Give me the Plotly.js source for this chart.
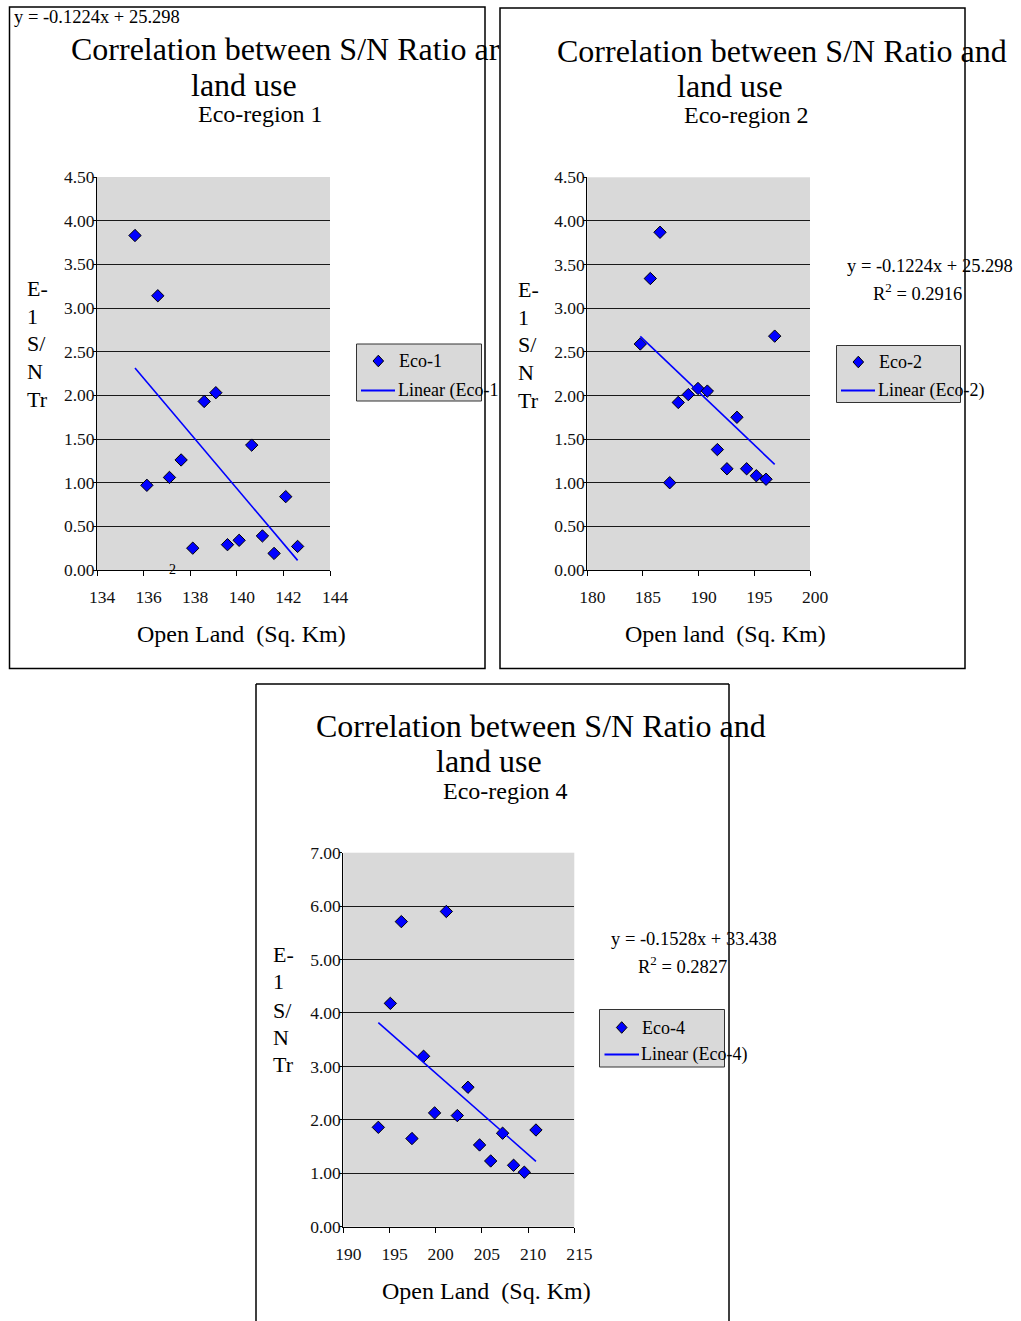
<!DOCTYPE html>
<html>
<head>
<meta charset="utf-8">
<script src="https://cdn.plot.ly/plotly-3.0.1.min.js"></script>
<style>
html,body{margin:0;padding:0;background:#fff;}
#chart{width:1021px;height:1321px;}
</style>
</head>
<body>
<div id="chart"></div>
<script>
// ---- Data ----
const eco1X = [135.63,136.14,136.61,137.11,137.61,138.11,138.60,139.10,139.60,140.10,140.64,141.10,141.60,142.10,142.61];
const eco1Y = [3.83,0.97,3.14,1.06,1.26,0.25,1.93,2.03,0.29,0.34,1.43,0.39,0.19,0.84,0.27];

const eco2X = [184.76,185.66,186.53,187.40,188.17,189.07,189.94,190.78,191.68,192.54,193.44,194.31,195.18,196.05,196.83];
const eco2Y = [2.59,3.34,3.87,1.00,1.92,2.01,2.08,2.05,1.38,1.16,1.75,1.16,1.08,1.04,2.68];

const eco4X = [193.79,195.09,196.28,197.43,198.69,199.88,201.15,202.34,203.49,204.75,205.95,207.24,208.43,209.59,210.85];
const eco4Y = [1.86,4.18,5.71,1.65,3.19,2.13,5.90,2.08,2.61,1.53,1.23,1.75,1.15,1.02,1.81];

const seriesNames = ["Eco-1","Eco-2","Eco-4"];
const legendLineLabels = ["Linear (Eco-1","Linear (Eco-2)","Linear (Eco-4)"];
const titleLine1 = "Correlation between S/N Ratio and";
const titleLine1Clipped = "Correlation between S/N Ratio ar";
const titleLine2 = "land use";
const subtitles = ["Eco-region 1","Eco-region 2","Eco-region 4"];
const xTitles = ["Open Land\u00a0\u00a0(Sq. Km)","Open land\u00a0\u00a0(Sq. Km)","Open Land\u00a0\u00a0(Sq. Km)"];
const yTitleLines = ["E-","1","S/","N","Tr"];
const eqTop = "y = -0.1224x + 25.298";
const eq2 = ["y = -0.1224x + 25.298","R<sup>2</sup> = 0.2916"];
const eq4 = ["y = -0.1528x + 33.438","R<sup>2</sup> = 0.2827"];

// ---- helpers ----
const W = 1021, H = 1321;
const px = x => x / W;
const py = y => 1 - y / H;
const SERIF = "Liberation Serif, Times New Roman, serif";
const BLUE = "#0000ff";

function linreg(xs, ys){
  const n = xs.length;
  const mx = xs.reduce((a,b)=>a+b,0)/n, my = ys.reduce((a,b)=>a+b,0)/n;
  let sxy=0, sxx=0;
  for(let i=0;i<n;i++){ sxy += (xs[i]-mx)*(ys[i]-my); sxx += (xs[i]-mx)**2; }
  const m = sxy/sxx, b = my - m*mx;
  const x0 = Math.min(...xs), x1 = Math.max(...xs);
  return {x:[x0,x1], y:[m*x0+b, m*x1+b]};
}

const sets = [[eco1X,eco1Y,'x','y'],[eco2X,eco2Y,'x2','y2'],[eco4X,eco4Y,'x3','y3']];
const traces = [];
sets.forEach((s,i)=>{
  traces.push({type:'scatter', mode:'markers', x:s[0], y:s[1], xaxis:s[2], yaxis:s[3],
    name:seriesNames[i], showlegend:false,
    marker:{symbol:'diamond', size:9.5, color:BLUE, line:{color:'#000', width:1}}});
  const r = linreg(s[0], s[1]);
  traces.push({type:'scatter', mode:'lines', x:r.x, y:r.y, xaxis:s[2], yaxis:s[3],
    name:legendLineLabels[i], showlegend:false, line:{color:BLUE, width:1.6}});
});

const tickFont = {family:SERIF, size:17.5, color:'#111'};
function xAx(l, r, range, dtick, anchor){
  return {domain:[px(l),px(r)], anchor:anchor, range:range, dtick:dtick, tick0:range[0],
    showline:true, linecolor:'#000', linewidth:1, showgrid:false, zeroline:false,
    ticks:'outside', ticklen:5, tickcolor:'#000', tickfont:tickFont,
    ticklabelstandoff:6, ticklabelshift:5, fixedrange:true};
}
function yAx(b, t, range, dtick, anchor){
  return {domain:[py(b),py(t)], anchor:anchor, range:range, dtick:dtick, tick0:0, tickformat:'.2f',
    showline:true, linecolor:'#000', linewidth:1, showgrid:true, gridcolor:'#1a1a1a', gridwidth:1,
    zeroline:false, ticks:'outside', ticklen:3, tickcolor:'#000', tickfont:tickFont,
    ticklabelstandoff:-5, fixedrange:true};
}

const ann = [];
function txt(text, x, y, size, xanchor, extra){
  ann.push(Object.assign({text:text, xref:'paper', yref:'paper', x:px(x), y:py(y),
    xanchor:xanchor||'center', yanchor:'middle', showarrow:false,
    font:{family:SERIF, size:size, color:'#000'}}, extra||{}));
}

// top-left equation (chart 1)
txt(eqTop, 12, 17, 18.5, 'left');
// titles
txt(titleLine1Clipped, 69, 49, 32, 'left');
txt(titleLine1, 554.5, 51, 32, 'left');
txt(titleLine1, 313.5, 726, 32, 'left');
txt(titleLine2, 244, 85, 32);
txt(titleLine2, 729.5, 86, 32);
txt(titleLine2, 488.5, 761, 32);
txt(subtitles[0], 260.5, 114, 24);
txt(subtitles[1], 746, 115, 24);
txt(subtitles[2], 505, 791, 24);
// x titles
txt(xTitles[0], 241.5, 634, 24);
txt(xTitles[1], 725.5, 634, 24);
txt(xTitles[2], 486, 1291, 24);
// y titles (stacked)
const yt1 = [288,316.5,343.5,371.5,399];
const yt4 = [955,981.5,1010,1037.5,1064.5];
yTitleLines.forEach((t,k)=>{
  txt(t, 24.5, yt1[k], 22, 'left');
  txt(t, 515.5, yt1[k]+1, 22, 'left');
  txt(t, 270.5, yt4[k], 22, 'left');
});
// stray "2" in chart 1
txt('2', 172, 569, 14);
// equations charts 2 and 4
txt(eq2[0], 845, 266, 18.5, 'left');
txt(eq2[1], 871, 292, 18.5, 'left');
txt(eq4[0], 608.5, 939, 18.5, 'left');
txt(eq4[1], 636, 965, 18.5, 'left');

// legends (manual)
const shapes = [];
function rectPx(x0,y0,x1,y1,style){
  shapes.push(Object.assign({type:'rect', xref:'paper', yref:'paper', x0:px(x0), x1:px(x1), y0:py(y0), y1:py(y1)}, style));
}
function linePx(x0,y0,x1,y1,style){
  shapes.push(Object.assign({type:'line', xref:'paper', yref:'paper', x0:px(x0), x1:px(x1), y0:py(y0), y1:py(y1)}, style));
}
function diamondPx(cx,cy){
  const hw=5.3, hh=5.8;
  const p = `M${px(cx-hw)},${py(cy)} L${px(cx)},${py(cy-hh)} L${px(cx+hw)},${py(cy)} L${px(cx)},${py(cy+hh)} Z`;
  shapes.push({type:'path', xref:'paper', yref:'paper', path:p, fillcolor:BLUE, line:{color:'#000', width:1}});
}
const legends = [
  {box:[356.5,344,481.5,401], d:[378.3,361], l:[361,395,390.5], tx:395.5},
  {box:[836.5,345.5,960.5,402.5], d:[858.3,362], l:[841,875,390.5], tx:876},
  {box:[599.5,1009.5,724.5,1067], d:[621.7,1027.5], l:[604.5,639,1054.5], tx:639}
];
legends.forEach((g,i)=>{
  rectPx(g.box[0],g.box[1],g.box[2],g.box[3], {fillcolor:'#d9d9d9', line:{color:'#333', width:1}});
  diamondPx(g.d[0], g.d[1]);
  linePx(g.l[0], g.l[2], g.l[1], g.l[2], {line:{color:BLUE, width:2}});
  txt(seriesNames[i], g.tx+1, g.d[1], 18, 'left');
  txt(legendLineLabels[i], g.tx, g.l[2], 18, 'left');
});

// chart frames
const fr = {color:'#000', width:1.5};
rectPx(9.5,7,485,668.5,{line:fr, fillcolor:'rgba(0,0,0,0)', layer:'above'});
rectPx(500,8,965,668.5,{line:fr, fillcolor:'rgba(0,0,0,0)', layer:'above'});
linePx(256,684,729,684,{line:fr, layer:'above'});
linePx(256,684,256,1321,{line:fr, layer:'above'});
linePx(729,684,729,1321,{line:fr, layer:'above'});

const layout = {
  width:W, height:H, margin:{l:0,r:0,t:0,b:0}, autosize:false,
  paper_bgcolor:'#fff', plot_bgcolor:'#d9d9d9',
  font:{family:SERIF, color:'#000'},
  showlegend:false,
  xaxis: xAx(97,330,[134,144],2,'y'),
  yaxis: yAx(570,177,[0,4.5],0.5,'x'),
  xaxis2: xAx(587.3,810,[180,200],5,'y2'),
  yaxis2: yAx(570,177.3,[0,4.5],0.5,'x2'),
  xaxis3: xAx(343.3,574.3,[190,215],5,'y3'),
  yaxis3: yAx(1226.7,852.7,[0,7],1,'x3'),
  annotations: ann,
  shapes: shapes
};
Plotly.newPlot('chart', traces, layout, {staticPlot:true, displayModeBar:false});
</script>
</body>
</html>
